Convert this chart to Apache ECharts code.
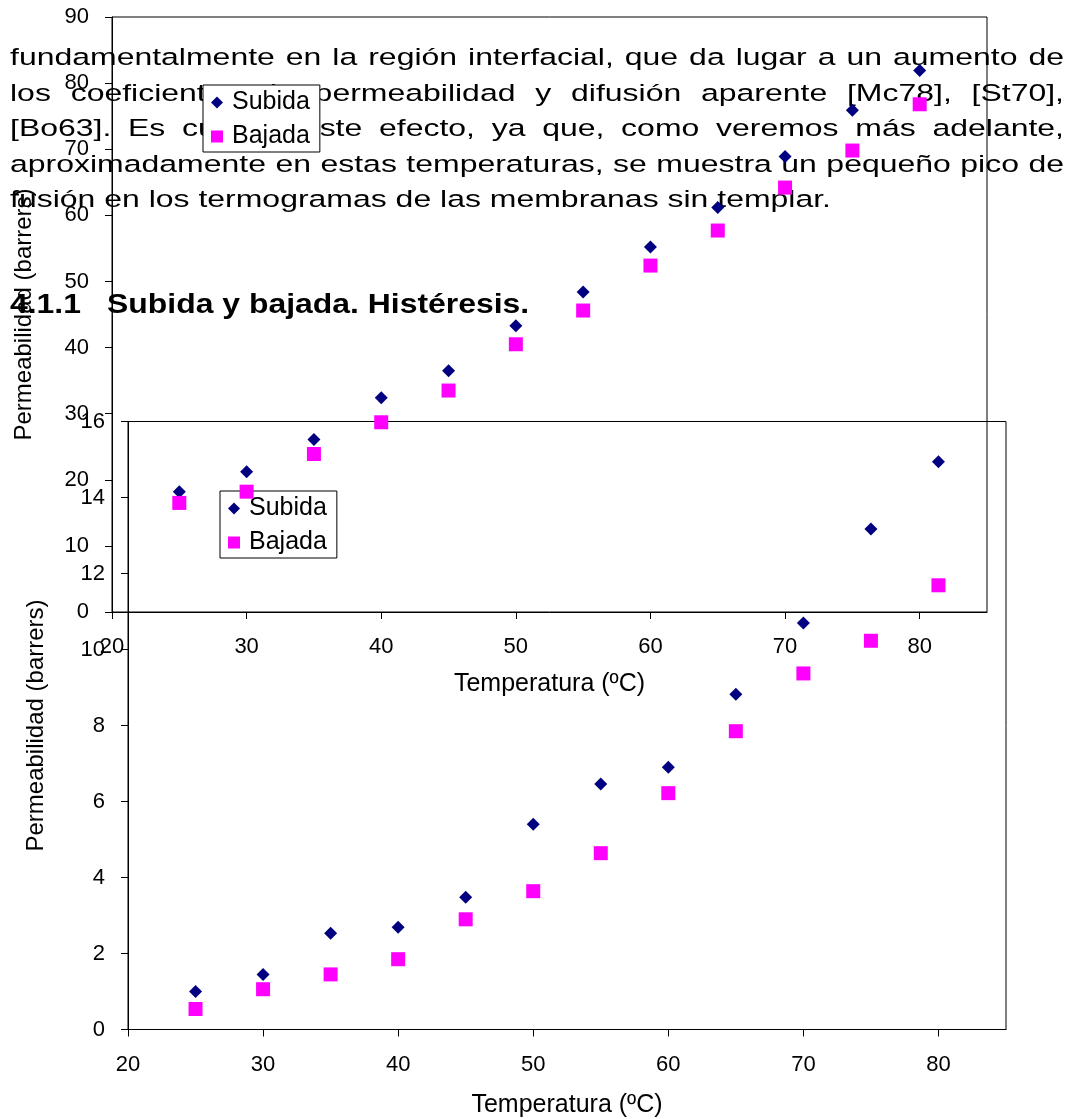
<!DOCTYPE html>
<html>
<head>
<meta charset="utf-8">
<script src="https://cdn.jsdelivr.net/npm/echarts@6/dist/echarts.min.js"></script>
<style>
  html, body { margin: 0; padding: 0; background: #ffffff; }
  #chart { width: 1074px; height: 1119px; }
</style>
</head>
<body>
<div id="chart"></div>
<script>
// Temperatures of the permeability runs (ºC)
const temperatures = [25, 30, 35, 40, 45, 50, 55, 60, 65, 70, 75, 80];

// First figure: permeability (barrers), heating and cooling branches
const upperSubida = [18.2, 21.2, 26.1, 32.4, 36.5, 43.3, 48.4, 55.2, 61.2, 68.9, 75.9, 81.9];
const upperBajada = [16.5, 18.2, 23.9, 28.7, 33.5, 40.5, 45.6, 52.4, 57.7, 64.2, 69.8, 76.8];

// Second figure: permeability (barrers), heating and cooling branches
const lowerSubida = [1.0, 1.45, 2.53, 2.69, 3.48, 5.4, 6.46, 6.9, 8.82, 10.7, 13.17, 14.94];
const lowerBajada = [0.54, 1.06, 1.45, 1.85, 2.9, 3.64, 4.64, 6.22, 7.85, 9.37, 10.23, 11.69];

// Axis ticks
const xTickValues = [20, 30, 40, 50, 60, 70, 80];
const upperYTicks = [0, 10, 20, 30, 40, 50, 60, 70, 80, 90];
const lowerYTicks = [0, 2, 4, 6, 8, 10, 12, 14, 16];

const seriesNames = ['Subida', 'Bajada'];
const axisTitleX = 'Temperatura (ºC)';
const axisTitleY = 'Permeabilidad (barrers)';

// Body text of the page
const paragraphLines = [
  'fundamentalmente en la región interfacial, que da lugar a un aumento de',
  'los coeficientes de permeabilidad y difusión aparente [Mc78], [St70],',
  '[Bo63]. Es curioso este efecto, ya que, como veremos más adelante,',
  'aproximadamente en estas temperaturas, se muestra un pequeño pico de',
  'fusión en los termogramas de las membranas sin templar.'
];
const headingNumber = '4.1.1';
const headingTitle = 'Subida y bajada. Histéresis.';

const FONT = '"Liberation Sans", Arial, Helvetica, sans-serif';
const NAVY = '#000080';
const MAGENTA = '#FF00FF';

// ---- text layout (justified lines, wide glyphs) ----
const measureCtx = document.createElement('canvas').getContext('2d');
function wordsOfLine(text, baseline, justify, left, right, size, weight, sx) {
  measureCtx.font = weight + ' ' + size + 'px ' + FONT;
  const words = text.split(' ');
  const widths = words.map(w => measureCtx.measureText(w).width * sx);
  const spaceW = measureCtx.measureText(' ').width * sx;
  const total = widths.reduce((a, b) => a + b, 0);
  const gap = justify && words.length > 1 ? (right - left - total) / (words.length - 1) : spaceW;
  const yMid = baseline - 0.3465 * size;
  const out = [];
  let x = left;
  words.forEach((w, i) => {
    out.push({
      type: 'text', x: x, y: yMid, scaleX: sx, z: -1, silent: true,
      style: { text: w, x: 0, y: 0, fontSize: size, fontWeight: weight, fontFamily: FONT,
               fill: '#000', align: 'left', verticalAlign: 'middle' }
    });
    x += widths[i] + gap;
  });
  return out;
}

const BODY_SIZE = 24.5, BODY_SX = 1.305;
const bodyBaselines = [67, 102.5, 138, 173.5, 209];
let textElements = [];
paragraphLines.forEach((line, i) => {
  const justify = i < paragraphLines.length - 1;
  textElements = textElements.concat(wordsOfLine(line, bodyBaselines[i], justify, 10, 1064, BODY_SIZE, 'normal', BODY_SX));
});
textElements = textElements.concat(wordsOfLine(headingNumber, 315, false, 10, 1064, 28, 'bold', 1.14));
textElements = textElements.concat(wordsOfLine(headingTitle, 315, false, 107, 1064, 28, 'bold', 1.14));

// ---- chart ----
const pairs = (xs, ys) => xs.map((x, i) => [x, ys[i]]);

function valueXAxis(gridIndex, nameGap) {
  return {
    type: 'value', gridIndex, min: 20, max: 85, interval: 10,
    name: axisTitleX, nameLocation: 'middle', nameGap,
    nameTextStyle: { fontSize: 25, color: '#000', fontFamily: FONT },
    axisLine: { show: true, lineStyle: { color: '#000', width: 1 } },
    axisTick: { show: true, inside: false, length: 7, customValues: xTickValues, lineStyle: { color: '#000' } },
    axisLabel: { customValues: xTickValues, margin: 24, fontSize: 22, color: '#000', fontFamily: FONT },
    splitLine: { show: false }
  };
}
function valueYAxis(gridIndex, ticks, nameGap) {
  return {
    type: 'value', gridIndex, min: ticks[0], max: ticks[ticks.length - 1],
    interval: ticks[1] - ticks[0],
    name: axisTitleY, nameLocation: 'middle', nameGap, nameRotate: 90,
    nameTextStyle: { fontSize: 24, color: '#000', fontFamily: FONT },
    axisLine: { show: true, lineStyle: { color: '#000', width: 1 } },
    axisTick: { show: true, inside: false, length: 7, lineStyle: { color: '#000' } },
    axisLabel: { margin: 23, fontSize: 22, color: '#000', fontFamily: FONT },
    splitLine: { show: false }
  };
}
function legendAt(left, top, z) {
  return {
    data: seriesNames, orient: 'vertical', left, top, z,
    padding: [5, 10, 3, 8], itemGap: 9, itemWidth: 12, itemHeight: 12,
    backgroundColor: '#fff', borderColor: '#000', borderWidth: 1, borderRadius: 0,
    selectedMode: false, inactiveColor: '#000',
    textStyle: { fontSize: 25, color: '#000', fontFamily: FONT, padding: [0, 0, 0, 4] }
  };
}
function scatter(name, xi, data, symbol, size, color, z) {
  return {
    type: 'scatter', name, xAxisIndex: xi, yAxisIndex: xi, data,
    symbol, symbolSize: size, itemStyle: { color, opacity: 1 }, z, clip: false,
    emphasis: { disabled: true }
  };
}

const chart = echarts.init(document.getElementById('chart'), null, { renderer: 'canvas' });
chart.setOption({
  animation: false,
  backgroundColor: '#fff',
  graphic: { elements: textElements },
  grid: [
    { left: 112, top: 17, width: 875, height: 595, show: true, borderColor: '#000', borderWidth: 1,
      backgroundColor: 'transparent', containLabel: false, outerBoundsMode: 'none' },
    { left: 128, top: 421.5, width: 878, height: 608, show: true, borderColor: '#000', borderWidth: 1,
      backgroundColor: 'transparent', containLabel: false, outerBoundsMode: 'none' }
  ],
  xAxis: [valueXAxis(0, 60), valueXAxis(1, 63)],
  yAxis: [valueYAxis(0, upperYTicks, 76), valueYAxis(1, lowerYTicks, 80)],
  legend: [legendAt(203, 85, 8), legendAt(220, 491, 4)],
  series: [
    scatter('Subida', 1, pairs(temperatures, lowerSubida), 'diamond', 13, NAVY, 3),
    scatter('Bajada', 1, pairs(temperatures, lowerBajada), 'rect', 14, MAGENTA, 3),
    scatter('Subida', 0, pairs(temperatures, upperSubida), 'diamond', 13, NAVY, 6),
    scatter('Bajada', 0, pairs(temperatures, upperBajada), 'rect', 14, MAGENTA, 6)
  ]
});
</script>
</body>
</html>
